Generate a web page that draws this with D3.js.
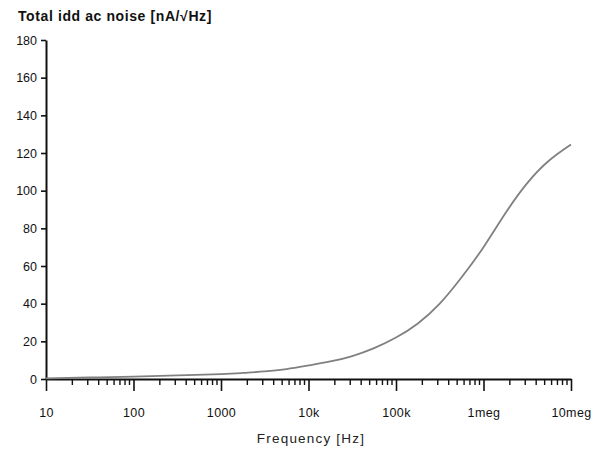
<!DOCTYPE html>
<html>
<head>
<meta charset="utf-8">
<script src="https://cdn.jsdelivr.net/npm/d3@7"></script>
<style>
  body { margin: 0; background: #fff; }
  svg { display: block; font-family: "Liberation Sans", Arial, sans-serif; }
</style>
</head>
<body>
<svg id="chart" width="595" height="452"></svg>
<script>
var freq  = [10, 31.6, 100, 316, 1000, 1778, 3162, 5623, 10000, 17783, 31623, 56234,
             100000, 177828, 316228, 562341, 1000000, 1778279, 3162278, 5623413, 10000000];
var noise = [0.3, 0.8, 1.3, 1.9, 2.6, 3.2, 4.0, 5.3, 7.2, 9.3, 12.2, 16.4,
             22, 29.5, 40, 54, 70, 88, 104, 116, 124.5];

var xTickValues = [10, 100, 1000, 1e4, 1e5, 1e6, 1e7];
var xTickLabels = ["10", "100", "1000", "10k", "100k", "1meg", "10meg"];
var yTickValues = [0, 20, 40, 60, 80, 100, 120, 140, 160, 180];

var svg = d3.select("#chart");

var x = d3.scaleLog().domain([10, 1e7]).range([46, 571]);
var y = d3.scaleLinear().domain([0, 180]).range([379, 40]);

// minor ticks 2..9 of every decade
var minor = [];
for (var d = 10; d < 1e7; d *= 10) {
  for (var k = 2; k <= 9; k++) minor.push(d * k);
}

// x axis, major ticks
var xAxis = d3.axisBottom(x)
  .tickValues(xTickValues)
  .tickFormat(function(v, i) { return xTickLabels[i]; })
  .tickSize(12)
  .tickSizeOuter(0)
  .tickPadding(17);

var gx = svg.append("g").attr("transform", "translate(0," + y(0) + ")").call(xAxis);
gx.select(".domain").attr("stroke", "#111").attr("stroke-width", 2);
gx.selectAll(".tick line").attr("stroke", "#111").attr("stroke-width", 1.6);
gx.selectAll(".tick text").attr("font-size", 12.5).attr("fill", "#111").attr("letter-spacing", 0.4);

// x axis, minor ticks
svg.append("g").selectAll("line")
  .data(minor)
  .enter()
  .append("line")
  .attr("x1", function(v) { return x(v); })
  .attr("x2", function(v) { return x(v); })
  .attr("y1", y(0))
  .attr("y2", y(0) + 6)
  .attr("stroke", "#111")
  .attr("stroke-width", 1.4);

// y axis
var yAxis = d3.axisLeft(y)
  .tickValues(yTickValues)
  .tickSize(5)
  .tickSizeOuter(0)
  .tickPadding(4);

var gy = svg.append("g").attr("transform", "translate(" + x(10) + ",0)").call(yAxis);
gy.select(".domain").attr("stroke", "#111").attr("stroke-width", 2);
gy.selectAll(".tick line").attr("stroke", "#111").attr("stroke-width", 1.6);
gy.selectAll(".tick text").attr("font-size", 12.5).attr("fill", "#111");

// curve
var line = d3.line()
  .x(function(v, i) { return x(freq[i]); })
  .y(function(v) { return y(v); })
  .curve(d3.curveNatural);

svg.append("path")
  .datum(noise)
  .attr("d", line)
  .attr("fill", "none")
  .attr("stroke", "#808080")
  .attr("stroke-width", 1.8);

// titles
svg.append("text")
  .attr("x", 18)
  .attr("y", 21)
  .attr("font-size", 14)
  .attr("font-weight", "bold")
  .attr("letter-spacing", 0.6)
  .attr("fill", "#111")
  .text("Total idd ac noise [nA/\u221AHz]");

svg.append("text")
  .attr("x", 311)
  .attr("y", 443)
  .attr("text-anchor", "middle")
  .attr("font-size", 13.5)
  .attr("letter-spacing", 1.2)
  .attr("fill", "#222")
  .text("Frequency [Hz]");
</script>
</body>
</html>
